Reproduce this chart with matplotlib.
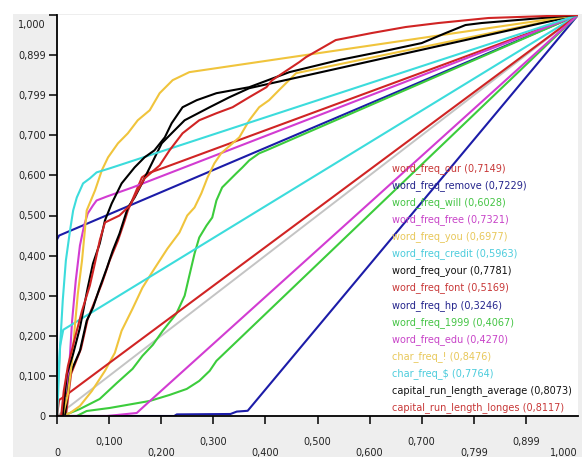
import matplotlib
matplotlib.use("Agg")
import matplotlib.pyplot as plt
import matplotlib.transforms as mtransforms
from matplotlib.patches import Rectangle

# ROC curves (false positive rate, true positive rate)
names = ["word_freq_our", "word_freq_remove", "word_freq_will", "word_freq_free",
         "word_freq_you", "word_freq_credit", "word_freq_your", "word_freq_font",
         "word_freq_hp", "word_freq_1999", "word_freq_edu", "char_freq_!",
         "char_freq_$", "capital_run_length_average", "capital_run_length_longes"]
auc = ["0,7149", "0,7229", "0,6028", "0,7321", "0,6977", "0,5963", "0,7781", "0,5169",
       "0,3246", "0,4067", "0,4270", "0,8476", "0,7764", "0,8073", "0,8117"]

our_x = [0, .017, .027, .046, .059, .073, .086, .101, .117, .130, .136, .163, .174, .207, 1]
our_y = [0, 0, .105, .1675, .2425, .2875, .33, .3875, .4375, .4875, .5125, .595, .605, .62, 1]

remove_x = [0, 0, .004, 1]
remove_y = [0, .44, .45, 1]

will_x = [0, .011, .025, .044, .082, .115, .145, .164, .184, .203, .229, .245, .254, .264,
          .273, .287, .298, .306, .317, .344, .356, .369, .388, .402, 1]
will_y = [0, 0, .0075, .0175, .0425, .0825, .1175, .15, .1775, .2125, .255, .3, .35, .405,
          .445, .475, .495, .5375, .57, .605, .62, .6375, .655, .6625, 1]

free_x = [0, .010, .017, .023, .029, .036, .044, .052, .059, .069, .076, .096, .145, 1]
free_y = [0, 0, .025, .1125, .2375, .3375, .425, .475, .505, .525, .5375, .5475, .57, 1]

you_x = [0, .010, .025, .044, .067, .092, .111, .124, .145, .164, .187, .212, .235, .250,
         .264, .277, .289, .302, .315, .350, .369, .388, .407, .426, .459, 1]
you_y = [0, 0, .0075, .025, .0625, .1125, .1575, .2125, .2675, .32, .3675, .4175, .4575, .5,
         .52, .555, .595, .63, .655, .695, .7375, .77, .7875, .8125, .855, 1]

credit_x = [0, .002, .006, .012, 1]
credit_y = [0, .0875, .175, .215, 1]

your_x = [0, .015, .025, .044, .057, .069, .082, .096, .107, .120, .136, .149, .163, .182,
          .201, .220, .245, .293, .331, .369, 1]
your_y = [0, 0, .105, .1625, .2375, .27, .32, .37, .4125, .455, .52, .545, .58, .63,
          .68, .705, .7375, .77, .795, .8175, 1]

font_x = [0, .004, .010, 1]
font_y = [0, .04, .045, 1]

hp_x = [0, .225, .23, .333, .345, .366, 1]
hp_y = [0, 0, .004, .005, .011, .013, 1]

y1999_x = [0, .025, .038, .057, .101, .178, .216, .249, .273, .293, .306, 1]
y1999_y = [0, 0, 0, .0125, .02, .0375, .0525, .0675, .0875, .1125, .1375, 1]

edu_x = [0, .096, .153, .172, 1]
edu_y = [0, 0, .0075, .03, 1]

excl_x = [0, .011, .021, .029, .034, .040, .048, .054, .057, .073, .086, .098, .117, .136,
          .155, .178, .197, .222, .254, 1]
excl_y = [0, 0, .055, .1375, .22, .305, .3875, .47, .5125, .5625, .6125, .645, .68, .705,
          .7375, .7625, .805, .8375, .8575, 1]

dollar_x = [0, .002, .006, .011, .017, .025, .031, .038, .050, .063, .076, .101, 1]
dollar_y = [0, .05, .175, .2875, .3875, .4625, .5125, .545, .58, .5925, .6075, .6175, 1]

cap_avg_x = [0, .011, .019, .031, .044, .059, .069, .082, .092, .105, .124, .149, .168, .187,
             .207, .220, .241, .268, .306, .369, .446, .541, .637, .700, .746, .784, .815, 1]
cap_avg_y = [0, 0, .105, .155, .22, .32, .38, .43, .4875, .53, .58, .62, .645, .6625,
             .695, .73, .77, .7875, .805, .82, .8575, .8875, .9125, .93, .955, .975, .98, 1]

cap_long_x = [0, .008, .013, .021, .033, .048, .063, .073, .082, .092, .120, .140, .155, .168,
              .197, .216, .241, .273, .306, .337, .369, .402, .413, .465, .478, .535, .604,
              .669, .732, .828, 1]
cap_long_y = [0, 0, .0625, .125, .1875, .2625, .325, .3825, .4375, .4825, .5, .525, .5625, .5925,
              .625, .6625, .705, .7375, .755, .77, .795, .82, .8375, .8825, .895, .9375, .955,
              .97, .98, .9925, 1]

curves = [(our_x, our_y), (remove_x, remove_y), (will_x, will_y), (free_x, free_y),
          (you_x, you_y), (credit_x, credit_y), (your_x, your_y), (font_x, font_y),
          (hp_x, hp_y), (y1999_x, y1999_y), (edu_x, edu_y), (excl_x, excl_y),
          (dollar_x, dollar_y), (cap_avg_x, cap_avg_y), (cap_long_x, cap_long_y)]

palette = ["#D02424", "#1C1CA8", "#3CCC3C", "#D23CD2", "#F0C43C", "#3CDCDC", "#000000"]
text_palette = ["#C83838", "#24248C", "#44C444", "#C844C8", "#E8C85A", "#4CCCDC", "#111111"]

xtick_vals = [0, 0.1, 0.2, 0.3, 0.4, 0.5, 0.6, 0.7, 0.8, 0.9, 1.0]
xtick_labels = ["0", "0,100", "0,200", "0,300", "0,400", "0,500", "0,600", "0,700",
                "0,799", "0,899", "1,000"]
ytick_vals = xtick_vals
ytick_labels = xtick_labels

fig = plt.figure(figsize=(5.82, 4.57), dpi=100, facecolor="#EEEEEE")
fig.add_artist(Rectangle((0, 1 - 14 / 457), 1, 14 / 457, transform=fig.transFigure,
                         facecolor="white", edgecolor="none", zorder=-5))
fig.add_artist(Rectangle((0, 0), 13 / 582, 1, transform=fig.transFigure,
                         facecolor="white", edgecolor="none", zorder=-5))
ax = fig.add_axes([57 / 582, 41 / 457, 521 / 582, 401 / 457])
ax.set_facecolor("white")

ax.plot([0, 1], [0, 1], color="#C4C4C4", lw=1.4, zorder=1)
for i, (cx, cy) in enumerate(curves):
    ax.plot(cx, cy, color=palette[i % 7], lw=1.5, zorder=2, solid_joinstyle="round")

ax.set_xlim(0, 1)
ax.set_ylim(0, 1)
for s in ["top", "right"]:
    ax.spines[s].set_visible(False)
for s in ["left", "bottom"]:
    ax.spines[s].set_linewidth(1.3)
    ax.spines[s].set_zorder(5)

ax.set_xticks(xtick_vals)
ax.set_xticklabels(xtick_labels)
ax.set_yticks(ytick_vals)
ax.set_yticklabels(ytick_labels)
ax.tick_params(axis="both", length=6, width=1.1, color="black", labelsize=7,
               labelcolor="#222222")
ax.tick_params(axis="x", pad=9)
ax.tick_params(axis="y", pad=2)

# alternate x labels: even ones sit lower
dpi_t = fig.dpi_scale_trans
for i, lab in enumerate(ax.get_xticklabels()):
    if i % 2 == 0:
        lab.set_transform(lab.get_transform() + mtransforms.ScaledTranslation(0, -11 / 100, dpi_t))
xt = ax.xaxis.get_major_ticks()
xt[-1].tick1line.set_visible(False)
xt[-1].label1.set_horizontalalignment("right")
# "1,000" on y sits a bit below its tick
ylab = ax.get_yticklabels()[-1]
ylab.set_transform(ylab.get_transform() + mtransforms.ScaledTranslation(0, -9 / 100, dpi_t))

# legend as coloured text
for i, (n, a) in enumerate(zip(names, auc)):
    ax.text(0.643, 0.618 - i * 0.0427, f"{n} ({a})", transform=ax.transAxes,
            color=text_palette[i % 7], fontsize=7, va="center", ha="left", zorder=6)

fig.savefig("out.png", dpi=100, facecolor=fig.get_facecolor())
